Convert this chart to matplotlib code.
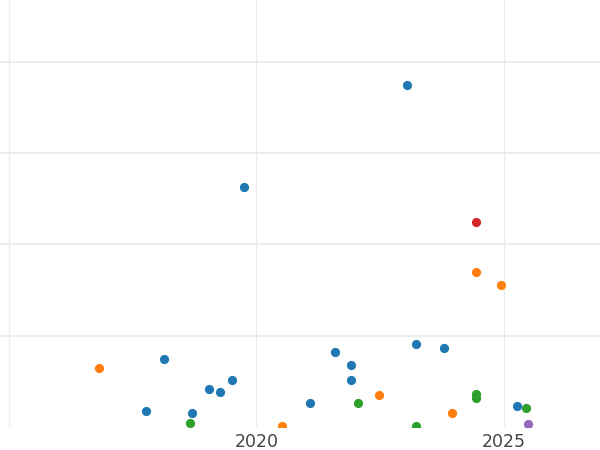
import matplotlib.pyplot as plt

# decimal years and values
blue_x = [2023.04, 2019.74, 2018.13, 2017.76, 2018.69, 2019.05, 2019.26, 2019.50,
          2021.09, 2021.59, 2021.91, 2021.91, 2023.23, 2023.79, 2025.27]
blue_y = [3.746, 2.629, 0.748, 0.175, 0.157, 0.413, 0.383, 0.511,
          0.260, 0.818, 0.682, 0.511, 0.912, 0.862, 0.227]

orange_x = [2016.81, 2020.52, 2022.48, 2023.96, 2024.44, 2024.95]
orange_y = [0.646, 0.014, 0.347, 0.150, 1.694, 1.552]

green_x = [2018.66, 2022.06, 2023.23, 2024.44, 2024.44, 2025.44]
green_y = [0.040, 0.266, 0.015, 0.358, 0.321, 0.208]

red_x = [2024.43]
red_y = [2.249]

purple_x = [2025.48]
purple_y = [0.036]

series = [
    (blue_x, blue_y, '#1f77b4'),
    (orange_x, orange_y, '#ff7f0e'),
    (green_x, green_y, '#2ca02c'),
    (red_x, red_y, '#d62728'),
    (purple_x, purple_y, '#9467bd'),
]

fig = plt.figure(figsize=(6, 4.5), dpi=100)
ax = fig.add_axes([0, 23 / 450, 1, 427 / 450])

for xs, ys, c in series:
    ax.scatter(xs, ys, s=44, color=c, linewidths=0, zorder=3)

ax.set_xlim(2014.82, 2026.94)
ax.set_ylim(0, 4.677)
ax.set_xticks([2015, 2020, 2025])
ax.set_xticklabels(['', '2020', '2025'])
ax.set_yticks([1, 2, 3, 4])
ax.set_yticklabels([])
ax.tick_params(length=0, labelsize=12.5, labelcolor='#444444', pad=4)
ax.grid(True, axis='y', color='#ebebeb', linewidth=1.3, zorder=0)
ax.grid(True, axis='x', color='#ebebeb', linewidth=0.9, zorder=0)
ax.set_axisbelow(True)
for sp in ax.spines.values():
    sp.set_visible(False)

fig.savefig('out.png', dpi=100)
